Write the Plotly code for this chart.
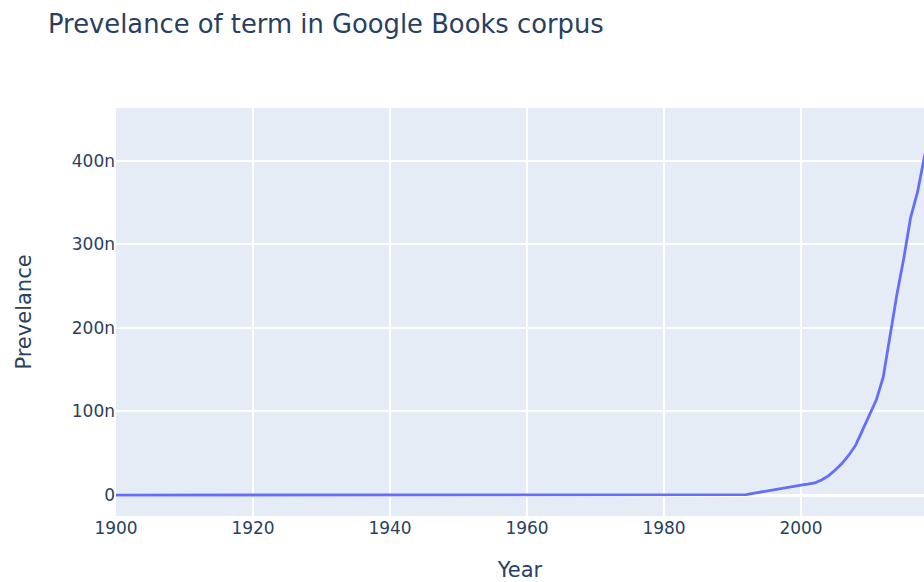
import plotly.graph_objects as go

# Years 1900-2019
years = list(range(1900, 2020))

# Prevalence values in units of 1e-9 (n)
prevalence_n = [
    # 1900-1909
    0, 0, 0, 0, 0, 0, 0, 0, 0, 0,
    # 1910-1919
    0, 0, 0, 0, 0, 0, 0, 0, 0, 0,
    # 1920-1929
    0, 0, 0, 0, 0, 0, 0, 0, 0, 0,
    # 1930-1939
    0, 0, 0, 0, 0, 0, 0, 0, 0, 0,
    # 1940-1949
    0, 0, 0, 0, 0, 0, 0, 0, 0, 0,
    # 1950-1959
    0, 0, 0, 0, 0, 0, 0, 0, 0, 0,
    # 1960-1969
    0, 0, 0, 0, 0, 0, 0, 0, 0, 0,
    # 1970-1979
    0, 0, 0, 0, 0, 0, 0, 0, 0, 0,
    # 1980-1989
    0, 0, 0, 0, 0, 0, 0, 0, 0, 0,
    # 1990-1999
    0, 0, 0.5, 2, 3.5, 5, 6.5, 8, 9.5, 11,
    # 2000-2009
    12, 13, 14.5, 18, 23, 30, 38, 48, 60, 78,
    # 2010-2019
    96, 114, 141, 192, 240, 283, 332, 362, 404, 440,
]
prevalence = [v * 1e-9 for v in prevalence_n]

fig = go.Figure(
    go.Scatter(
        x=years,
        y=prevalence,
        mode="lines",
        line=dict(color="#636efa", width=2.8),
    )
)

font_family = "DejaVu Sans"
fig.update_layout(
    template="plotly",
    width=924,
    height=582,
    margin=dict(l=116, r=0, t=108, b=66),
    font=dict(family=font_family, color="#2a3f5f", size=17),
    title=dict(
        text="Prevelance of term in Google Books corpus",
        font=dict(size=25.8, family=font_family),
        x=48 / 924,
        xanchor="left",
        xref="container",
        y=1 - 24 / 582,
        yanchor="middle",
        yref="container",
    ),
    showlegend=False,
)
fig.update_xaxes(
    title=dict(text="Year", font=dict(size=21), standoff=29),
    range=[1900, 1900 + 808 / 6.85],
    tick0=1900,
    dtick=20,
    gridwidth=1.6,
    tickfont=dict(size=17),
)
fig.update_yaxes(
    title=dict(text="Prevelance", font=dict(size=21), standoff=34),
    range=[-25e-9, 463e-9],
    dtick=100e-9,
    gridwidth=1.6,
    zerolinewidth=2.8,
    tickfont=dict(size=17),
)

fig.write_html(
    "out.html",
    config={"displayModeBar": False},
    post_script="document.body.style.margin='0';",
)
